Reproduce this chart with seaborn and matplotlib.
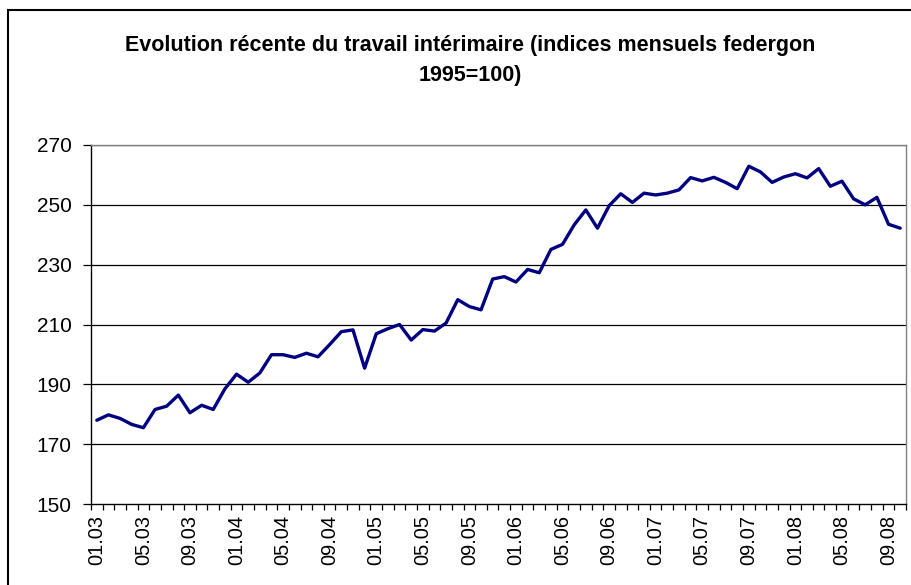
import matplotlib
matplotlib.use("Agg")
import matplotlib.pyplot as plt
from matplotlib.patches import Rectangle
from matplotlib.ticker import FixedLocator
import seaborn as sns
import pandas as pd

# Monthly federgon temp-work index (1995=100), January 2003 to October 2008
months = [f"{m:02d}.{y:02d}" for y in range(3, 9) for m in range(1, 13)][:70]
index_values = [
    178.0, 179.8, 178.6, 176.6, 175.5, 181.6, 182.7, 186.4, 180.5, 183.0,
    181.6, 188.5, 193.4, 190.7, 193.8, 199.9, 199.9, 199.0, 200.4, 199.2,
    203.3, 207.6, 208.2, 195.4, 206.9, 208.6, 210.0, 204.8, 208.3, 207.8,
    210.5, 218.3, 216.0, 214.9, 225.2, 226.0, 224.2, 228.4, 227.3, 235.1,
    236.8, 243.3, 248.3, 242.2, 249.7, 253.7, 250.8, 253.9, 253.3, 253.9,
    255.0, 259.1, 258.0, 259.2, 257.5, 255.4, 262.9, 261.0, 257.5, 259.3,
    260.4, 259.0, 262.1, 256.2, 257.9, 252.0, 250.0, 252.5, 243.5, 242.2,
]
tick_labels = ["01.03", "05.03", "09.03", "01.04", "05.04", "09.04",
               "01.05", "05.05", "09.05", "01.06", "05.06", "09.06",
               "01.07", "05.07", "09.07", "01.08", "05.08", "09.08"]
y_ticks = [150, 170, 190, 210, 230, 250, 270]

sns.set_theme(style="white")
plt.rcParams["font.family"] = ["Liberation Sans", "DejaVu Sans"]
plt.rcParams["text.color"] = "black"
plt.rcParams["xtick.color"] = "black"
plt.rcParams["ytick.color"] = "black"
plt.rcParams["xtick.labelcolor"] = "black"
plt.rcParams["ytick.labelcolor"] = "black"

df = pd.DataFrame({"pos": range(len(months)), "month": months, "value": index_values})

fig = plt.figure(figsize=(9.12, 5.85), dpi=100)
ax = fig.add_axes([91 / 912, 81 / 585, 815 / 912, 359 / 585])

for v in y_ticks[1:]:
    ax.axhline(v, color="black", lw=0.9, zorder=1)

sns.lineplot(data=df, x="pos", y="value", ax=ax, color="#000080",
             linewidth=2.4, zorder=3)

ax.set_xlim(-0.5, len(months) - 0.5)
ax.set_ylim(150, 270)
ax.set_yticks(y_ticks)
ax.set_yticklabels([str(v) for v in y_ticks], fontsize=15, color="black")

label_pos = [months.index(t) for t in tick_labels]
ax.set_xticks(label_pos)
ax.set_xticklabels(tick_labels, rotation=90, fontsize=14.4, color="black")
ax.xaxis.set_minor_locator(FixedLocator([i - 0.5 for i in range(len(months) + 1)]))
ax.tick_params(axis="x", which="major", length=0, pad=8)
ax.tick_params(axis="x", which="minor", length=4.5, width=0.9, color="black",
               direction="out", bottom=True)
ax.tick_params(axis="y", which="major", length=5.8, width=0.9, color="black",
               direction="out", left=True, pad=8)
ax.set_xlabel("")
ax.set_ylabel("")

for side in ("left", "bottom"):
    ax.spines[side].set_color("black")
    ax.spines[side].set_linewidth(1.0)
for side in ("top", "right"):
    ax.spines[side].set_color("#808080")
    ax.spines[side].set_linewidth(1.0)

fig.text(470 / 912, 1 - 45 / 585,
         "Evolution récente du travail intérimaire (indices mensuels federgon",
         ha="center", va="center", fontsize=15.5, fontweight="bold", color="black")
fig.text(470 / 912, 1 - 76 / 585, "1995=100)",
         ha="center", va="center", fontsize=15.5, fontweight="bold", color="black")

# outer chart-area frame
fig.patches.append(Rectangle((8 / 912, -0.1), 1.2, 1 - 10 / 585 + 0.1,
                             transform=fig.transFigure, fill=False,
                             edgecolor="black", linewidth=1.5))

fig.savefig("out.png", dpi=100)
